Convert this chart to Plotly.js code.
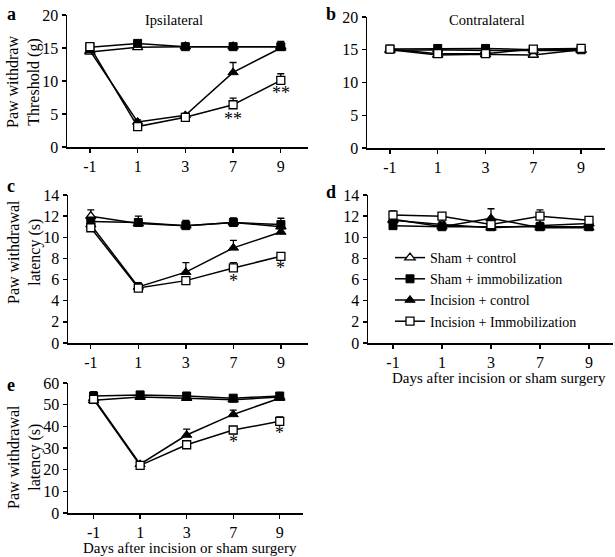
<!DOCTYPE html>
<html><head><meta charset="utf-8">
<script src="https://cdn.plot.ly/plotly-3.0.1.min.js"></script>
<style>html,body{margin:0;padding:0;background:#fff}#chart{width:615px;height:557px}</style>
</head><body><div id="chart"></div>
<script>
// ---------- data ----------
const days = ['-1', '1', '3', '7', '9'];
const groups = ['Sham + control', 'Sham + immobilization', 'Incision + control', 'Incision + Immobilization'];

// Panel a: ipsilateral threshold (g)
const aShamCtrl   = [14.4, 15.1, 15.2, 15.2, 15.2];
const aShamImmob  = [15.1, 15.7, 15.2, 15.2, 15.2];
const aIncCtrl    = [14.6, 3.8, 4.8, 11.3, 15.0];
const aIncImmob   = [15.2, 3.1, 4.5, 6.4, 10.1];
const aShamCtrlErr  = [0.3, 0.3, 0.3, 0.3, 0.5];
const aShamImmobErr = [0.3, 0.3, 0.3, 0.3, 0.8];
const aIncCtrlErr   = [0.3, 0.3, 0.3, 1.5, 0.5];
const aIncImmobErr  = [0.3, 0.3, 0.4, 1.0, 1.0];

// Panel b: contralateral threshold (g)
const bShamCtrl   = [15.0, 14.2, 14.3, 14.2, 15.0];
const bShamImmob  = [15.1, 15.2, 15.2, 15.0, 15.0];
const bIncCtrl    = [14.9, 15.0, 14.9, 14.9, 14.9];
const bIncImmob   = [15.1, 14.4, 14.4, 15.1, 15.2];
const bErr        = [0.3, 0.3, 0.3, 0.3, 0.3];

// Panel c: ipsilateral latency (s)
const cShamCtrl   = [12.0, 11.3, 11.1, 11.4, 11.0];
const cShamImmob  = [11.5, 11.4, 11.1, 11.4, 11.2];
const cIncCtrl    = [11.2, 5.3, 6.7, 9.0, 10.5];
const cIncImmob   = [10.9, 5.2, 5.9, 7.1, 8.2];
const cShamCtrlErr  = [0.6, 0.4, 0.4, 0.4, 0.5];
const cShamImmobErr = [0.4, 0.6, 0.5, 0.4, 0.6];
const cIncCtrlErr   = [0.3, 0.3, 0.9, 0.7, 0.3];
const cIncImmobErr  = [0.3, 0.5, 0.3, 0.5, 0.3];

// Panel d: contralateral latency (s)
const dShamCtrl   = [11.6, 11.2, 10.9, 11.1, 11.3];
const dShamImmob  = [11.1, 11.0, 11.0, 11.0, 11.0];
const dIncCtrl    = [11.7, 11.0, 11.8, 10.9, 10.9];
const dIncImmob   = [12.1, 12.0, 11.2, 12.0, 11.6];
const dShamCtrlErr  = [0.4, 0.3, 0.3, 0.3, 0.3];
const dShamImmobErr = [0.3, 0.3, 0.3, 0.3, 0.3];
const dIncCtrlErr   = [0.4, 0.3, 0.9, 0.3, 0.3];
const dIncImmobErr  = [0.4, 0.3, 0.4, 0.6, 0.3];

// Panel e: ipsilateral latency (s)
const eShamCtrl   = [52.0, 53.5, 53.0, 52.3, 53.5];
const eShamImmob  = [54.0, 54.5, 54.0, 53.0, 54.0];
const eIncCtrl    = [53.0, 22.5, 36.0, 45.5, 53.0];
const eIncImmob   = [52.5, 22.0, 31.5, 38.3, 42.3];
const eShamCtrlErr  = [1.5, 1.0, 1.0, 1.0, 1.0];
const eShamImmobErr = [2.0, 1.0, 1.0, 1.0, 1.0];
const eIncCtrlErr   = [1.0, 1.0, 2.7, 2.0, 1.0];
const eIncImmobErr  = [1.0, 1.0, 1.0, 1.5, 2.0];

// significance markers
const aStarDays = ['7', '9'], aStarY = [4.3, 8.2], aStarText = ['**', '**'];
const cStarDays = ['7', '9'], cStarY = [5.9, 7.1], cStarText = ['*', '*'];
const eStarDays = ['7', '9'], eStarY = [33.0, 36.8], eStarText = ['*', '*'];

// ---------- styles ----------
const FONT = 'Liberation Serif';
const markerStyles = [
  {symbol: 'triangle-up', color: '#fff', size: 9, line: {color: '#000', width: 1.3}},
  {symbol: 'square', color: '#000', size: 8, line: {color: '#000', width: 1}},
  {symbol: 'triangle-up', color: '#000', size: 9, line: {color: '#000', width: 1}},
  {symbol: 'square', color: '#fff', size: 8, line: {color: '#000', width: 1.3}}
];

function traces(vals, errs, xa, ya, legend) {
  return vals.map((v, i) => ({
    type: 'scatter', mode: 'lines+markers',
    x: days, y: v, xaxis: xa, yaxis: ya,
    name: groups[i], showlegend: legend,
    line: {color: '#000', width: 1.5},
    marker: markerStyles[i],
    cliponaxis: false,
    error_y: {type: 'data', symmetric: false, array: errs[i], arrayminus: errs[i].map(() => 0),
              color: '#000', thickness: 1.3, width: 3.5}
  }));
}

const data = [].concat(
  traces([aShamCtrl, aShamImmob, aIncCtrl, aIncImmob], [aShamCtrlErr, aShamImmobErr, aIncCtrlErr, aIncImmobErr], 'x', 'y', false),
  traces([bShamCtrl, bShamImmob, bIncCtrl, bIncImmob], [bErr, bErr, bErr, bErr], 'x2', 'y2', false),
  traces([cShamCtrl, cShamImmob, cIncCtrl, cIncImmob], [cShamCtrlErr, cShamImmobErr, cIncCtrlErr, cIncImmobErr], 'x3', 'y3', false),
  traces([dShamCtrl, dShamImmob, dIncCtrl, dIncImmob], [dShamCtrlErr, dShamImmobErr, dIncCtrlErr, dIncImmobErr], 'x4', 'y4', true),
  traces([eShamCtrl, eShamImmob, eIncCtrl, eIncImmob], [eShamCtrlErr, eShamImmobErr, eIncCtrlErr, eIncImmobErr], 'x5', 'y5', false)
);

const W = 615, H = 557;
const px = (a, b) => [a / W, b / W];
const py = (top, bottom) => [1 - bottom / H, 1 - top / H];

function xax(dom, range, anchor) {
  return {domain: dom, anchor: anchor, type: 'category', categoryorder: 'array', categoryarray: days,
    range: range, showgrid: false, zeroline: false, showline: true, linecolor: '#000', linewidth: 1.5,
    ticks: 'outside', ticklen: 4, tickcolor: '#000', tickwidth: 1.3,
    tickfont: {family: FONT, size: 16, color: '#000'}, fixedrange: true};
}
function yax(dom, range, dtick, anchor) {
  return {domain: dom, anchor: anchor, range: range, dtick: dtick, tick0: 0,
    showgrid: false, zeroline: false, showline: true, linecolor: '#000', linewidth: 1.5,
    ticks: 'outside', ticklen: 4, tickcolor: '#000', tickwidth: 1.3,
    tickfont: {family: FONT, size: 16, color: '#000'}, fixedrange: true};
}

const annots = [];
function label(text, x, y, size, bold, angle) {
  annots.push({text: bold ? '<b>' + text + '</b>' : text, xref: 'paper', yref: 'paper',
    x: x / W, y: 1 - y / H, showarrow: false, textangle: angle || 0,
    font: {family: FONT, size: size, color: '#000'}, xanchor: 'center', yanchor: 'middle'});
}
label('a', 11, 14, 18, true);
label('b', 331, 14, 18, true);
label('c', 11, 186, 18, true);
label('d', 331, 192, 18, true);
label('e', 11, 385, 18, true);
label('Ipsilateral', 174, 20, 14.5, false);
label('Contralateral', 487, 20, 14.5, false);
label('Paw withdraw<br>Threshold (g)', 23, 82, 16, false, -90);
label('Paw withdrawal<br>latency (s)', 24, 252, 16, false, -90);
label('Paw withdrawal<br>latency (s)', 24, 457, 16, false, -90);
label('Days after incision or sham surgery', 499, 378, 15, false);
label('Days after incision or sham surgery', 190, 548, 15, false);

function stars(days_, ys, texts, xr, yr) {
  days_.forEach((d, i) => annots.push({text: texts[i], x: days.indexOf(d), y: ys[i], xref: xr, yref: yr,
    showarrow: false, font: {family: FONT, size: 18, color: '#000'}, xanchor: 'center', yanchor: 'middle'}));
}
stars(aStarDays, aStarY, aStarText, 'x', 'y');
stars(cStarDays, cStarY, cStarText, 'x3', 'y3');
stars(eStarDays, eStarY, eStarText, 'x5', 'y5');

const layout = {
  width: W, height: H, margin: {l: 0, r: 0, t: 0, b: 0},
  paper_bgcolor: '#fff', plot_bgcolor: 'rgba(0,0,0,0)',
  showlegend: true,
  legend: {x: 390 / W, y: 1 - 242 / H, xanchor: 'left', yanchor: 'top', bgcolor: 'rgba(0,0,0,0)',
    font: {family: FONT, size: 14, color: '#000'}, itemwidth: 30, tracegroupgap: 0, traceorder: 'normal'},
  xaxis:  xax(px(67, 308), [-0.48, 4.57], 'y'),
  yaxis:  yax(py(15, 147), [0, 20], 5, 'x'),
  xaxis2: xax(px(367, 605), [-0.48, 4.5], 'y2'),
  yaxis2: yax(py(17, 148), [0, 20], 5, 'x2'),
  xaxis3: xax(px(68, 308), [-0.48, 4.57], 'y3'),
  yaxis3: yax(py(195, 343), [0, 14], 2, 'x3'),
  xaxis4: xax(px(368, 613), [-0.51, 4.49], 'y4'),
  yaxis4: yax(py(195, 343), [0, 14], 2, 'x4'),
  xaxis5: xax(px(68, 303), [-0.55, 4.5], 'y5'),
  yaxis5: yax(py(383, 513), [0, 60], 10, 'x5'),
  annotations: annots
};

Plotly.newPlot('chart', data, layout, {staticPlot: true, displayModeBar: false});
</script></body></html>
